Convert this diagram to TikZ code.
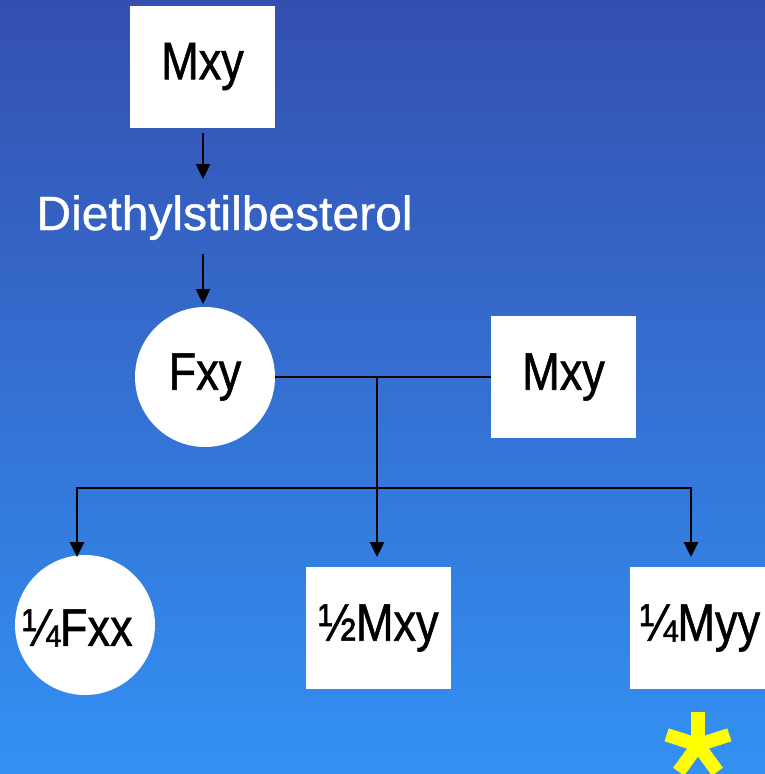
\documentclass[tikz,border=0pt]{standalone}
\usepackage{fontspec}
\setmainfont{Liberation Sans}[FakeBold=0.8]
\newfontfamily\narrowfont{Liberation Sans}[FakeStretch=0.85,FakeBold=1]
\usetikzlibrary{arrows.meta}
\definecolor{bgtop}{RGB}{52,79,176}
\definecolor{bgbot}{RGB}{51,145,243}
\definecolor{starcol}{RGB}{255,255,0}
\tikzset{
  box/.style={draw=none, fill=white, rectangle, minimum width=145pt, minimum height=122pt, inner sep=0pt,
    font=\narrowfont\fontsize{53}{60}\selectfont, text=black},
  disc/.style={draw=none, fill=white, circle, minimum size=140pt, inner sep=0pt,
    font=\narrowfont\fontsize{53}{60}\selectfont, text=black},
  lbl/.style={font=\narrowfont\fontsize{53}{60}\selectfont, text=black, inner sep=0pt},
  link/.style={draw=black, line width=2.5pt},
  arr/.style={link, -{Triangle[length=15pt,width=14pt]}},
  arm/.style={fill=starcol, draw=none}
}
\begin{document}
\begin{tikzpicture}[x=1pt,y=-1pt]
\useasboundingbox (0,0) rectangle (765,774);
\shade[top color=bgtop, bottom color=bgbot] (0,0) rectangle (765,774);
\begin{scope}
\clip (0,0) rectangle (765,774);
% nodes
\node[box] (m1) at (202.5,66.5) {Mxy};
\node[anchor=base, text=white, font=\fontsize{48}{56}\selectfont, inner sep=0pt] (des) at (224.5,230) {Diethylstilbesterol};
\node[disc] (f1) at (205,377) {Fxy};
\node[box] (m2) at (563.5,377) {Mxy};
\node[disc] (f2) at (85,625) {};
\node[lbl] (f2t) at (77.5,628) {¼Fxx};
\node[box] (m3) at (378.5,628) {½Mxy};
\node[box] (m4) at (702.5,628) {};
\node[lbl] (m4t) at (700,628) {¼Myy};
% coordinates
\coordinate (a1s) at (203,133);
\coordinate (a1e) at (203,179);
\coordinate (a2s) at (203,254);
\coordinate (a2e) at (203,304);
\coordinate (jt) at (377,377);
\coordinate (jl) at (77,488);
\coordinate (jr) at (691,488);
\coordinate (tl) at (77,557);
\coordinate (tm) at (377,557);
\coordinate (tr) at (691,557);
% connectors
\draw[arr] (a1s) -- (a1e);
\draw[arr] (a2s) -- (a2e);
\draw[link] (f1.east) -- (m2.west);
\draw[arr] (jt) -- (tm);
\draw[link] ([xshift=-1.25pt]jl) -- ([xshift=1.25pt]jr);
\draw[arr] ([yshift=-1.25pt]jl) -- (tl);
\draw[arr] ([yshift=-1.25pt]jr) -- (tr);
% asterisk
\begin{scope}[shift={(698,745)}]
  \foreach \a in {90,18,162,-54,234} {
    \fill[arm, rotate=\a] (0,-6.8) rectangle (33,6.8);
  }
\end{scope}
\end{scope}
\end{tikzpicture}
\end{document}
